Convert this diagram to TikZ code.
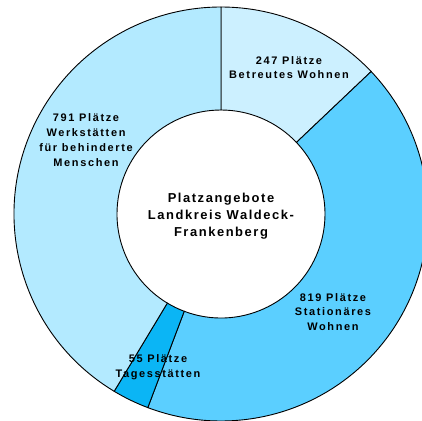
\documentclass[tikz,border=0pt]{standalone}
\usepackage{fontspec}
\setmainfont{Liberation Sans}
\newfontfamily\chartfont[LetterSpace=12]{Liberation Sans}
\newfontfamily\lblfont[LetterSpace=15]{Liberation Sans}
\definecolor{betreutCol}{HTML}{CCF0FF}
\definecolor{statCol}{HTML}{5BCFFF}
\definecolor{tagesCol}{HTML}{0BB5F5}
\definecolor{werkCol}{HTML}{B3EAFF}

\begin{document}
\begin{tikzpicture} [x=1bp,y=1bp,
  seg/.style= {draw=black,line width=0.9bp},
  lbl/.style= {font=\lblfont\bfseries\fontsize{11}{14.8}\selectfont,align=center,inner sep=0},
  titel/.style= {font=\chartfont\bfseries\fontsize{13}{17}\selectfont,align=center,inner sep=0}]
\useasboundingbox (-221,-207) rectangle (201,214);
\clip (-221,-207) rectangle (201,214);
\foreach \a/\b/\c in {90/43.494/betreutCol, 43.494/-110.711/statCol, -110.711/-121.067/tagesCol, -121.067/-270/werkCol}{%
  \filldraw[seg,fill=\c] (\a:207bp) arc[start angle=\a,end angle=\b,radius=207bp] -- (\b:104bp) arc[start angle=\b,end angle=\a,radius=104bp] -- cycle;}

\node[titel] (titel) at (0,-2) {Platzangebote\\Landkreis Waldeck-\\Frankenberg};
\node[lbl] (betreut) at (68,146.5) {247 Plätze\\Betreutes Wohnen};
\node[lbl] (werk) at (-135,74) {791 Plätze\\Werkstätten\\für behinderte\\Menschen};
\node[lbl] (stationaer) at (112,-98) {819 Plätze\\Stationäres\\Wohnen};
\node[lbl] (tages) at (-63,-153) {55 Plätze\\Tagesstätten};
\end{tikzpicture}
\end{document}
